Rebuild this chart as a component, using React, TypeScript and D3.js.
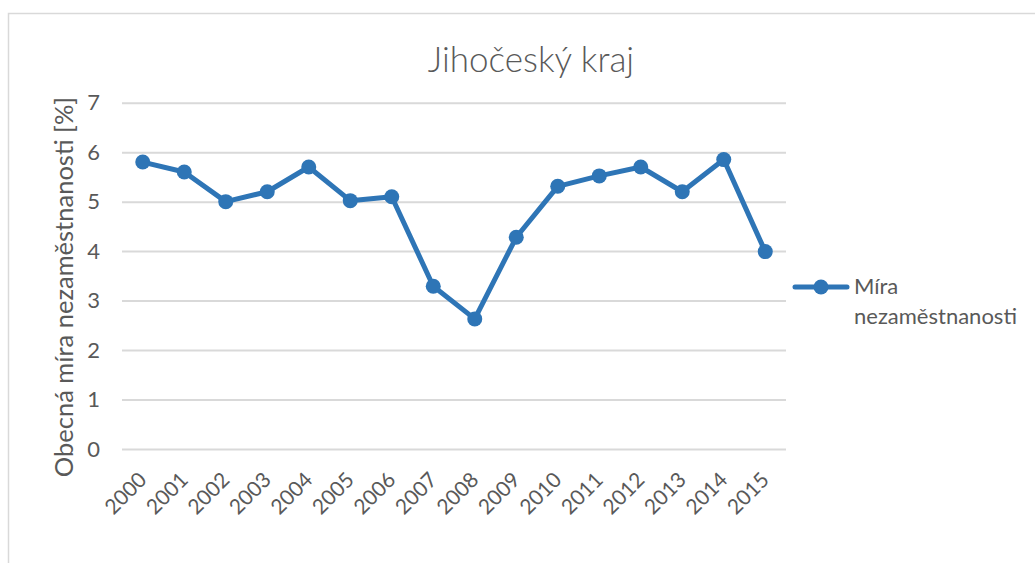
import * as d3 from 'd3';
import React, { useEffect, useRef } from 'react';

// data
const years = ['2000', '2001', '2002', '2003', '2004', '2005', '2006', '2007',
  '2008', '2009', '2010', '2011', '2012', '2013', '2014', '2015'];
const unemployment = [5.8, 5.6, 5.0, 5.2, 5.7, 5.02, 5.1, 3.29,
  2.63, 4.28, 5.31, 5.52, 5.7, 5.2, 5.85, 3.99];
const yTicks = [0, 1, 2, 3, 4, 5, 6, 7];

const chartTitle = 'Jihočeský kraj';
const yTitle = 'Obecná míra nezaměstnanosti [%]';
const seriesName = ['Míra', 'nezaměstnanosti'];

const W = 1035;
const H = 563;
const FONT = 'Lato, "Open Sans", sans-serif';
const TEXT = '#595959';
const BLUE = '#2e75b6';

const App = () => {
  const chartRef = useRef<SVGSVGElement>(null);

  useEffect(() => {
    const svg = d3.select(chartRef.current);
    svg.selectAll('*').remove();

    const margin = { top: 102.7, left: 122, right: W - 786, bottom: H - 449 };

    const x = d3.scaleBand()
      .domain(years)
      .range([margin.left, W - margin.right]);

    const y = d3.scaleLinear()
      .domain([0, 7])
      .range([H - margin.bottom, margin.top]);

    // chart area border
    svg.append('path')
      .attr('d', `M8.5,${H} V13.5 H${W}`)
      .attr('fill', 'none')
      .attr('stroke', '#d9d9d9')
      .attr('stroke-width', 1.5);

    // gridlines + y labels
    const yAxis = svg.append('g')
      .attr('transform', `translate(${margin.left},0)`)
      .call(d3.axisLeft(y).tickValues(yTicks).tickFormat(d3.format('d'))
        .tickSize(-(W - margin.right - margin.left)).tickPadding(22));
    yAxis.select('.domain').remove();
    yAxis.selectAll('line').attr('stroke', '#d9d9d9').attr('stroke-width', 2);
    yAxis.selectAll('text')
      .attr('fill', TEXT)
      .style('font-family', FONT)
      .style('font-size', '22px');

    // x labels
    const cx = (d: string) => (x(d) as number) + x.bandwidth() / 2;
    svg.append('g')
      .selectAll('text')
      .data(years)
      .enter().append('text')
      .attr('transform', d => `translate(${cx(d)},476) rotate(-45)`)
      .attr('text-anchor', 'end')
      .attr('dy', '0.35em')
      .attr('fill', TEXT)
      .style('font-family', FONT)
      .style('font-size', '21px')
      .text(d => d);

    // line
    const line = d3.line<number>()
      .x((d, i) => cx(years[i]))
      .y(d => y(d));

    svg.append('path')
      .datum(unemployment)
      .attr('d', line)
      .attr('fill', 'none')
      .attr('stroke', BLUE)
      .attr('stroke-width', 5)
      .attr('stroke-linejoin', 'round');

    svg.append('g')
      .selectAll('circle')
      .data(unemployment)
      .enter().append('circle')
      .attr('cx', (d, i) => cx(years[i]))
      .attr('cy', d => y(d))
      .attr('r', 7.5)
      .attr('fill', BLUE);

    // title
    svg.append('text')
      .attr('x', 531)
      .attr('y', 72)
      .attr('text-anchor', 'middle')
      .attr('fill', TEXT)
      .style('font-family', FONT)
      .style('font-weight', 300)
      .style('font-size', '35px')
      .text(chartTitle);

    // y title
    svg.append('text')
      .attr('transform', 'translate(73,287) rotate(-90)')
      .attr('text-anchor', 'middle')
      .attr('fill', TEXT)
      .style('font-family', FONT)
      .style('font-size', '25.5px')
      .text(yTitle);

    // legend
    const lg = svg.append('g');
    lg.append('line')
      .attr('x1', 795).attr('x2', 847)
      .attr('y1', 287).attr('y2', 287)
      .attr('stroke', BLUE)
      .attr('stroke-width', 5)
      .attr('stroke-linecap', 'round');
    lg.append('circle')
      .attr('cx', 821).attr('cy', 287).attr('r', 7.5)
      .attr('fill', BLUE);
    lg.selectAll('text.leg')
      .data(seriesName)
      .enter().append('text')
      .attr('class', 'leg')
      .attr('x', 854)
      .attr('y', (d, i) => 294 + i * 30)
      .attr('fill', TEXT)
      .style('font-family', FONT)
      .style('font-size', '22px')
      .text(d => d);
  }, []);

  return (
    <svg ref={chartRef} width={W} height={H}
      style={{ position: 'absolute', left: 0, top: 0, background: '#fff' }} />
  );
};

export default App;
